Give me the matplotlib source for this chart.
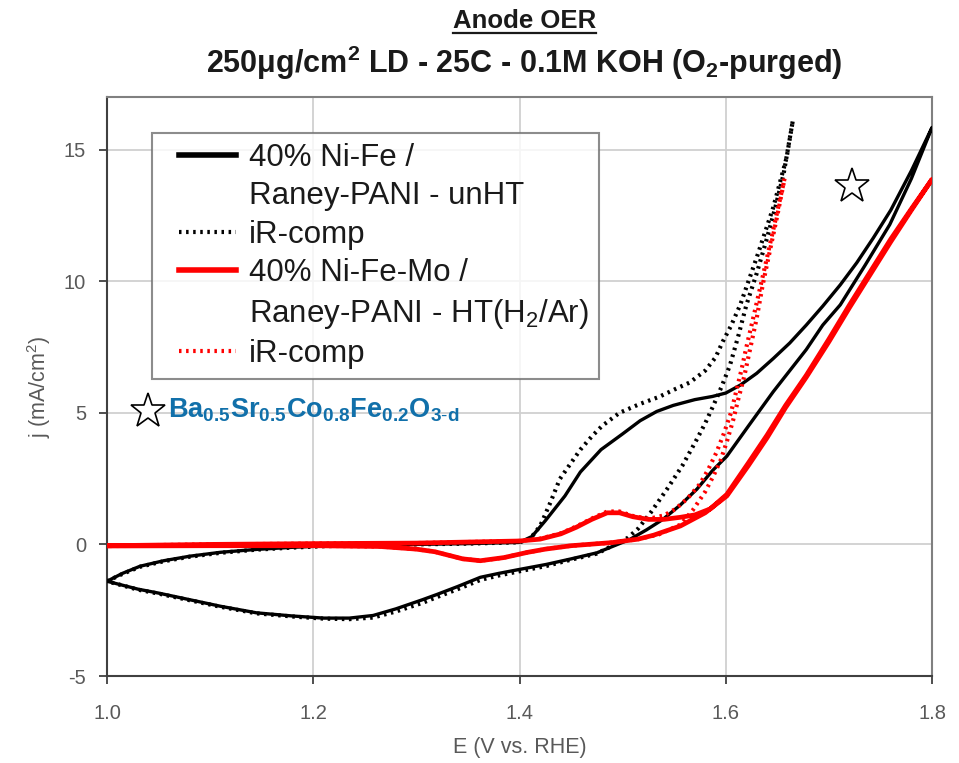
import matplotlib
matplotlib.use("Agg")
import matplotlib.pyplot as plt
from matplotlib.lines import Line2D
from matplotlib.legend_handler import HandlerLine2D

plt.rcParams['font.family'] = ['Liberation Sans', 'DejaVu Sans']
plt.rcParams['mathtext.fontset'] = 'custom'
plt.rcParams['mathtext.rm'] = 'Liberation Sans'
plt.rcParams['mathtext.bf'] = 'Liberation Sans:bold'
plt.rcParams['mathtext.it'] = 'Liberation Sans:italic'
plt.rcParams['axes.unicode_minus'] = False

# ---- data ----
# 40% Ni-Fe / Raney-PANI - unHT (CV loop: anodic then cathodic)
E_nife = [1.000, 1.015, 1.032, 1.055, 1.080, 1.110, 1.145, 1.180, 1.210, 1.250, 1.300, 1.350, 1.400,
          1.412, 1.425, 1.444, 1.459, 1.479, 1.500, 1.517, 1.533, 1.549, 1.570, 1.587, 1.600,
          1.614, 1.630, 1.646, 1.662, 1.678, 1.694, 1.711, 1.727, 1.743, 1.760, 1.780, 1.800,
          1.780, 1.759, 1.735, 1.711, 1.694, 1.678, 1.658, 1.646, 1.622, 1.601, 1.587, 1.572,
          1.556, 1.539, 1.523, 1.507, 1.490, 1.475, 1.450, 1.426, 1.400, 1.380, 1.362, 1.340,
          1.320, 1.306, 1.280, 1.258, 1.235, 1.210, 1.180, 1.145, 1.110, 1.080, 1.050, 1.030, 1.000]
j_nife = [-1.40, -1.10, -0.83, -0.62, -0.45, -0.30, -0.19, -0.11, -0.06, -0.03, 0.00, 0.03, 0.08,
          0.30, 0.90, 1.84, 2.75, 3.60, 4.20, 4.70, 5.05, 5.28, 5.50, 5.62, 5.75,
          6.05, 6.50, 7.06, 7.65, 8.33, 9.05, 9.86, 10.70, 11.64, 12.70, 14.20, 15.84,
          13.90, 12.15, 10.60, 9.10, 8.33, 7.40, 6.40, 5.80, 4.50, 3.35, 2.80, 2.10,
          1.50, 0.95, 0.55, 0.19, -0.08, -0.32, -0.55, -0.76, -0.95, -1.10, -1.25, -1.60,
          -1.90, -2.10, -2.45, -2.70, -2.80, -2.80, -2.72, -2.60, -2.35, -2.10, -1.85, -1.70, -1.40]

# iR-comp of Ni-Fe
E_nife_ir = [1.000, 1.015, 1.032, 1.055, 1.080, 1.110, 1.145, 1.180, 1.210, 1.250, 1.300, 1.350, 1.400,
             1.410, 1.420, 1.430, 1.439, 1.450, 1.459, 1.470, 1.480, 1.497, 1.517, 1.535, 1.551,
             1.565, 1.580, 1.590, 1.597, 1.605, 1.614, 1.630, 1.646, 1.659, 1.665,
             1.656, 1.648, 1.640, 1.630, 1.620, 1.612, 1.604, 1.596, 1.588, 1.580, 1.572, 1.558,
             1.543, 1.527, 1.515, 1.505, 1.490, 1.475, 1.450, 1.426, 1.400, 1.380, 1.362, 1.340,
             1.320, 1.306, 1.280, 1.258, 1.235, 1.210, 1.180, 1.145, 1.110, 1.080, 1.050, 1.030, 1.000]
j_nife_ir = [-1.40, -1.12, -0.85, -0.64, -0.47, -0.32, -0.20, -0.12, -0.07, -0.03, 0.00, 0.03, 0.08,
             0.20, 0.70, 1.60, 2.48, 3.10, 3.60, 4.10, 4.50, 5.00, 5.34, 5.60, 5.90,
             6.15, 6.60, 7.10, 7.70, 8.30, 9.10, 10.90, 12.80, 14.70, 16.10,
             14.06, 12.80, 11.64, 10.30, 9.10, 7.90, 6.80, 6.00, 5.28, 4.60, 4.00, 3.00,
             2.10, 1.20, 0.60, 0.25, -0.05, -0.35, -0.58, -0.82, -1.02, -1.18, -1.35, -1.70,
             -2.00, -2.22, -2.55, -2.78, -2.84, -2.82, -2.74, -2.62, -2.37, -2.12, -1.87, -1.72, -1.40]

# 40% Ni-Fe-Mo / Raney-PANI - HT(H2/Ar)
E_nifemo = [1.000, 1.100, 1.200, 1.300, 1.400, 1.420, 1.440, 1.455, 1.470, 1.485, 1.497, 1.510,
            1.525, 1.540, 1.556, 1.570, 1.585, 1.601, 1.622, 1.640, 1.658, 1.678, 1.700, 1.720,
            1.740, 1.760, 1.780, 1.800,
            1.780, 1.760, 1.740, 1.720, 1.700, 1.678, 1.658, 1.640, 1.622, 1.601, 1.580, 1.556,
            1.530, 1.515, 1.490, 1.450, 1.425, 1.408, 1.385, 1.362, 1.345, 1.330, 1.318, 1.300,
            1.290, 1.265, 1.200, 1.100, 1.000]
j_nifemo = [-0.05, 0.00, 0.03, 0.05, 0.13, 0.20, 0.40, 0.65, 0.95, 1.20, 1.20, 1.05,
            0.95, 0.95, 1.03, 1.12, 1.35, 1.90, 3.10, 4.15, 5.28, 6.42, 7.80, 9.10,
            10.35, 11.60, 12.75, 13.87,
            12.70, 11.50, 10.25, 9.00, 7.70, 6.35, 5.20, 4.05, 3.00, 1.84, 1.20, 0.70,
            0.35, 0.20, 0.07, -0.05, -0.18, -0.30, -0.50, -0.62, -0.55, -0.40, -0.28, -0.18,
            -0.15, -0.08, -0.05, -0.05, -0.06]

# iR-comp of Ni-Fe-Mo
E_nifemo_ir = [1.000, 1.100, 1.200, 1.300, 1.400, 1.420, 1.440, 1.455, 1.470, 1.485, 1.497, 1.510,
               1.525, 1.540, 1.551, 1.563, 1.575, 1.583, 1.591, 1.598, 1.605, 1.610, 1.615, 1.620,
               1.626, 1.633, 1.640, 1.648, 1.657,
               1.650, 1.643, 1.636, 1.630, 1.624, 1.618, 1.612, 1.607, 1.601, 1.595, 1.588, 1.580,
               1.568, 1.556, 1.535, 1.515, 1.490, 1.450, 1.425, 1.408, 1.385, 1.362, 1.345, 1.330,
               1.318, 1.300, 1.290, 1.265, 1.200, 1.100, 1.000]
j_nifemo_ir = [-0.05, 0.00, 0.03, 0.05, 0.13, 0.22, 0.42, 0.68, 0.98, 1.25, 1.25, 1.08,
               0.97, 1.10, 1.34, 1.75, 2.30, 2.85, 3.50, 4.20, 5.00, 5.80, 6.60, 7.50,
               8.50, 9.70, 10.90, 12.30, 13.90,
               12.50, 11.20, 9.90, 8.60, 7.50, 6.40, 5.50, 4.70, 3.90, 3.20, 2.60, 2.00,
               1.30, 0.75, 0.38, 0.20, 0.07, -0.05, -0.18, -0.30, -0.50, -0.62, -0.55, -0.40,
               -0.28, -0.18, -0.15, -0.08, -0.05, -0.05, -0.06]

labels = ["40% Ni-Fe /", "Raney-PANI - unHT", "iR-comp",
          "40% Ni-Fe-Mo /", "Raney-PANI - HT(H$_2$/Ar)", "iR-comp"]
x_ticks = [1.0, 1.2, 1.4, 1.6, 1.8]
x_ticklabels = ["1.0", "1.2", "1.4", "1.6", "1.8"]
y_ticks = [-5, 0, 5, 10, 15]
star_E = [1.722, 1.040]
star_j = [13.6, 5.08]

# ---- figure ----
fig = plt.figure(figsize=(9.59, 7.63), dpi=100)
ax = fig.add_axes([0.1116, 0.114, 0.8603, 0.759])

dot = (0, (0.6, 1.1))
ax.plot(E_nife_ir, j_nife_ir, color='black', lw=3.0, ls=dot, zorder=3)
ax.plot(E_nife, j_nife, color='black', lw=2.4, zorder=4, solid_joinstyle='round')
ax.plot(E_nifemo, j_nifemo, color='#ff0000', lw=3.4, zorder=5, solid_joinstyle='round')
ax.plot(E_nifemo_ir, j_nifemo_ir, color='#ff0000', lw=3.0, ls=dot, zorder=6)

ax.plot(star_E, star_j, ls='none', marker='*', ms=26, mfc='white', mec='black', mew=1.2, zorder=7)

ax.text(1.059, 5.08, r'$\mathbf{Ba_{0.5}Sr_{0.5}Co_{0.8}Fe_{0.2}O_{3\text{-}d}}$',
        color='#1170AA', fontsize=19.5, va='center', ha='left', zorder=7)

ax.set_xlim(1.0, 1.8)
ax.set_ylim(-5, 17)
ax.set_xticks(x_ticks)
ax.set_xticklabels(x_ticklabels)
ax.set_yticks(y_ticks)
ax.grid(True, color='#d0d0d0', lw=1.3)
ax.set_axisbelow(True)
ax.tick_params(direction='out', length=6, width=1.3, color='#404040',
               labelsize=14.5, labelcolor='#595959', pad=9)
ax.tick_params(axis='x', pad=14)
for s in ax.spines.values():
    s.set_color('#808080')
    s.set_linewidth(1.5)
ax.spines['left'].set_color('#404040')
ax.spines['bottom'].set_color('#404040')

ax.set_xlabel('E (V vs. RHE)', fontsize=15.5, color='#595959', labelpad=10)
ax.set_ylabel('j (mA/cm$^2$)', fontsize=15.5, color='#595959', labelpad=8)


class ShiftedLine(HandlerLine2D):
    """Line handle drawn with an extra left inset inside the legend box."""
    def __init__(self, shift, **kw):
        super().__init__(**kw)
        self.shift = shift

    def create_artists(self, legend, orig_handle, xdescent, ydescent, width, height,
                       fontsize, trans):
        return super().create_artists(legend, orig_handle, xdescent - self.shift, ydescent,
                                      width - self.shift, height, fontsize, trans)


handles = [Line2D([], [], color='black', lw=4),
           Line2D([], [], color='none'),
           Line2D([], [], color='black', lw=3, ls=dot),
           Line2D([], [], color='#ff0000', lw=4),
           Line2D([], [], color='none'),
           Line2D([], [], color='#ff0000', lw=3, ls=dot)]
hmap = {h: ShiftedLine(12) for h in handles}
leg = ax.legend(handles, labels, loc='upper left', bbox_to_anchor=(0.0545, 0.938),
                borderaxespad=0, fontsize=22.5, frameon=True, fancybox=False,
                handlelength=2.36, handletextpad=0.42, labelspacing=0.27,
                borderpad=0.32, handler_map=hmap)
leg.get_frame().set_edgecolor('#707070')
leg.get_frame().set_linewidth(1.5)
for t in leg.get_texts():
    t.set_color('#1a1a1a')

# title
t1 = fig.text(0.547, 0.973, 'Anode OER', ha='center', va='center', fontsize=18.5,
              fontweight='bold', color='#1a1a1a')
t2 = fig.text(0.547, 0.918, r'250$\mathbf{\mu}$g/cm$^{\mathbf{2}}$ LD - 25C - 0.1M KOH (O$_{\mathbf{2}}$-purged)',
              ha='center', va='center', fontsize=22, fontweight='bold', color='#1a1a1a')
fig.canvas.draw()
bb = t1.get_window_extent(renderer=fig.canvas.get_renderer())
inv = fig.transFigure.inverted()
(x0, y0), (x1, y1) = inv.transform([[bb.x0, bb.y0], [bb.x1, bb.y1]])
fig.add_artist(Line2D([x0, x1], [y0 - 0.001, y0 - 0.001], color='#1a1a1a', lw=1.6,
                      transform=fig.transFigure))

fig.savefig('out.png', dpi=100)
